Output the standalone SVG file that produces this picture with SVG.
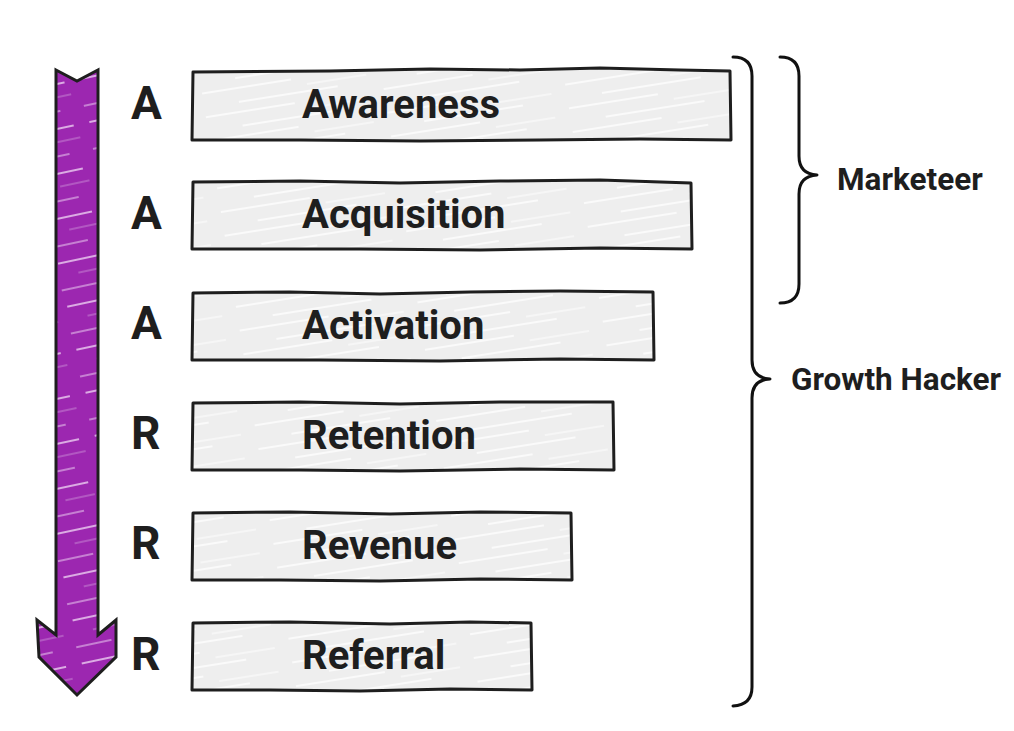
<svg xmlns="http://www.w3.org/2000/svg" width="1014" height="731" viewBox="0 0 1014 731">
<style>
.box{fill:url(#hg);stroke:#1e1e1e;stroke-width:3;stroke-linejoin:round}
.lbl{font-family:Roboto,"Liberation Sans",sans-serif;font-weight:700;font-size:40px;fill:#1e1e1e}
.let{font-family:Roboto,"Liberation Sans",sans-serif;font-weight:700;font-size:46px;fill:#1e1e1e}
.side{font-family:Roboto,"Liberation Sans",sans-serif;font-weight:700;font-size:31.5px;fill:#1e1e1e}
.brace{fill:none;stroke:#111;stroke-width:3;stroke-linecap:round;stroke-linejoin:round}
</style>
<defs>
<pattern id="hg" width="180" height="24" patternUnits="userSpaceOnUse" patternTransform="rotate(-9)">
<rect width="180" height="24" fill="#eeeeee"/>
<line x1="5" y1="4" x2="95" y2="4" stroke="#ffffff" stroke-width="1.3"/>
<line x1="110" y1="11" x2="170" y2="11" stroke="#ffffff" stroke-width="1"/>
<line x1="40" y1="18" x2="140" y2="18" stroke="#ffffff" stroke-width="1.4"/>
</pattern>
<pattern id="hp" width="60" height="44" patternUnits="userSpaceOnUse" patternTransform="rotate(-12)">
<rect width="60" height="44" fill="#9c27b0"/>
<line x1="2" y1="6" x2="46" y2="6" stroke="#f1d8f5" stroke-width="1.4"/>
<line x1="20" y1="19" x2="50" y2="19" stroke="#c987d4" stroke-width="1"/>
<line x1="0" y1="33" x2="36" y2="33" stroke="#f1d8f5" stroke-width="1.2"/>
</pattern>
</defs>
<rect width="1014" height="731" fill="#ffffff"/>
<g id="connectors">
<path id="funnel-arrow" d="M56,70 L77,81 L98,70 L98,635 L116,620 L116,657 L77,695 L39,657 L37,620 L56,635 Z" fill="url(#hp)" stroke="#1e1e1e" stroke-width="3" stroke-linejoin="miter"/>
<path id="brace-growth" class="brace" d="M733,57 Q752,57 752,76 L752,360 Q752,378 770,379 Q752,380 752,398 L752,687 Q752,705 733,706"/>
<path id="brace-marketeer" class="brace" d="M780,57 Q799,57 799,76 L799,156 Q799,174 817,175 Q799,176 799,194 L799,284 Q799,303 780,303"/>
</g>
<g id="node-awareness">
<path class="box" d="M193,72 L330,71 L430,69 L520,70 L600,68 L680,70 L730,71 L731,140 L640,139 L540,140 L420,141 L300,140 L192,140 Z"/>
<text class="let" x="131" y="119">A</text>
<text class="lbl" x="302" y="118">Awareness</text>
</g>
<g id="node-acquisition">
<path class="box" d="M193,182 L300,181 L400,183 L500,181 L600,180 L691,183 L692,249 L600,248 L480,250 L360,249 L192,249 Z"/>
<text class="let" x="131" y="229">A</text>
<text class="lbl" x="302" y="228">Acquisition</text>
</g>
<g id="node-activation">
<path class="box" d="M193,293 L290,292 L380,294 L470,292 L560,291 L653,292 L654,360 L560,359 L440,361 L320,360 L192,360 Z"/>
<text class="let" x="131" y="339">A</text>
<text class="lbl" x="302" y="339">Activation</text>
</g>
<g id="node-retention">
<path class="box" d="M193,403 L300,402 L400,404 L500,402 L613,402 L614,470 L520,469 L400,471 L300,470 L192,470 Z"/>
<text class="let" x="131" y="449">R</text>
<text class="lbl" x="302" y="449">Retention</text>
</g>
<g id="node-revenue">
<path class="box" d="M193,513 L290,512 L390,514 L480,512 L571,513 L572,580 L480,579 L380,581 L280,580 L192,580 Z"/>
<text class="let" x="131" y="559">R</text>
<text class="lbl" x="302" y="559">Revenue</text>
</g>
<g id="node-referral">
<path class="box" d="M193,623 L290,622 L390,624 L470,622 L531,623 L532,690 L450,689 L360,691 L270,690 L192,690 Z"/>
<text class="let" x="131" y="670">R</text>
<text class="lbl" x="302" y="669">Referral</text>
</g>
<g id="label-marketeer"><text class="side" x="837" y="190">Marketeer</text></g>
<g id="label-growth"><text class="side" x="791" y="390">Growth Hacker</text></g>
</svg>
